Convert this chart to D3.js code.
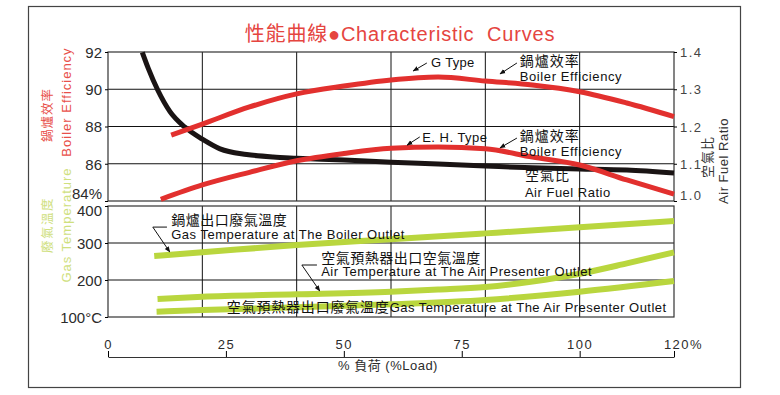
<!DOCTYPE html>
<html>
<head>
<meta charset="utf-8">
<script src="https://cdn.jsdelivr.net/npm/d3@7"></script>
<style>
  body { margin: 0; background: #fff; }
  svg text { font-family: "Liberation Sans", "Noto Sans CJK TC", sans-serif; }
</style>
</head>
<body>
<div id="chart"></div>
<script>
// load (%) on the x axis
const xTicks = [0, 25, 50, 75, 100, 120];
const gridLoads = [20, 40, 60, 80, 100];

// G type boiler efficiency (%)
const gLoad = [13.4, 20, 30, 40, 50, 60, 70, 80, 90, 100, 110, 120];
const gEff = [87.54, 88.13, 89.05, 89.75, 90.17, 90.5, 90.66, 90.44, 90.23, 89.87, 89.26, 88.53];

// E.H. type boiler efficiency (%)
const ehLoad = [11.2, 20, 30, 40, 50, 60, 70, 80, 90, 100, 110, 120];
const ehEff = [84.09, 84.86, 85.54, 86.16, 86.55, 86.83, 86.9, 86.8, 86.36, 85.93, 85.13, 84.37];

// air fuel ratio
const afLoad = [7.27, 8.54, 10.54, 13.14, 16.32, 20, 23.75, 29.4, 35, 40, 50, 60, 70, 80, 90, 100, 110, 120];
const afRatio = [1.399, 1.356, 1.298, 1.24, 1.198, 1.166, 1.14, 1.125, 1.118, 1.115, 1.11, 1.104, 1.099, 1.094, 1.089, 1.086, 1.083, 1.075];

// gas temperature at the boiler outlet (°C)
const boLoad = [9.8, 20, 40, 60, 80, 100, 120];
const boTemp = [264.9, 274.8, 294.6, 310, 326, 342.4, 359.5];

// air temperature at the air preheater outlet (°C)
const apAirLoad = [10.5, 20, 40, 60, 70, 80, 90, 100, 110, 120];
const apAirTemp = [148.6, 154.9, 161.3, 168.5, 174, 181, 196, 217, 245, 274.8];

// gas temperature at the air preheater outlet (°C)
const apGasLoad = [10.3, 20, 40, 60, 80, 100, 120];
const apGasTemp = [114.4, 118.9, 126.1, 134.2, 145.9, 168.4, 197.3];

const effTicks = [84, 86, 88, 90, 92];
const ratioTicks = [1.0, 1.1, 1.2, 1.3, 1.4];
const tempTicks = [100, 200, 300, 400];

const RED = "#e2302e", BLACK = "#1a1414", GREEN = "#b9d63e";
const TEXT = "#2b2b2b";

const width = 780, height = 395;
const svg = d3.select("#chart").append("svg")
  .attr("width", width)
  .attr("height", height);

const x = d3.scaleLinear().domain([0, 120]).range([108, 674]);
const yE = d3.scaleLinear().domain([84, 92]).range([201, 52]);
const yR = d3.scaleLinear().domain([1.0, 1.4]).range([201, 52]);
const yT = d3.scaleLinear().domain([100, 400]).range([317, 206]);

// outer frame
svg.append("rect")
  .attr("x", 28.5).attr("y", 6.5)
  .attr("width", 712).attr("height", 381)
  .attr("fill", "none").attr("stroke", "#444").attr("stroke-width", 1.2);

// title
svg.append("text")
  .attr("x", 400).attr("y", 41)
  .attr("text-anchor", "middle")
  .attr("fill", "#e5453f")
  .attr("font-size", 20)
  .attr("letter-spacing", 0.8)
  .text("性能曲線●Characteristic  Curves")
  .style("white-space", "pre");

// panels
function panel(yScale, hTicks) {
  const g = svg.append("g");
  g.selectAll(".vg").data(gridLoads).join("line")
    .attr("x1", d => x(d)).attr("x2", d => x(d))
    .attr("y1", yScale.range()[1]).attr("y2", yScale.range()[0])
    .attr("stroke", "#111").attr("stroke-width", 1);
  g.selectAll(".hg").data(hTicks).join("line")
    .attr("x1", x(0)).attr("x2", x(120))
    .attr("y1", d => yScale(d)).attr("y2", d => yScale(d))
    .attr("stroke", "#111").attr("stroke-width", 1);
  g.append("rect")
    .attr("x", x(0)).attr("y", yScale.range()[1])
    .attr("width", x(120) - x(0))
    .attr("height", yScale.range()[0] - yScale.range()[1])
    .attr("fill", "none").attr("stroke", "#333").attr("stroke-width", 1.2);
  return g;
}
panel(yE, [86, 88, 90]);
panel(yT, [200, 300]);

// left axis (efficiency)
const axE = svg.append("g")
  .attr("transform", `translate(${x(0)},0)`)
  .call(d3.axisLeft(yE).tickValues(effTicks).tickSize(3).tickPadding(3)
    .tickFormat(d => d === 84 ? "84%" : d));
axE.select(".domain").remove();
axE.selectAll("text").attr("font-size", 15).attr("fill", TEXT)
  .attr("dy", d => d === 84 ? "-0.15em" : "0.35em");

// left axis (temperature)
const axT = svg.append("g")
  .attr("transform", `translate(${x(0)},0)`)
  .call(d3.axisLeft(yT).tickValues(tempTicks).tickSize(3).tickPadding(3)
    .tickFormat(d => d === 100 ? "100°C" : d));
axT.select(".domain").remove();
axT.selectAll("text").attr("font-size", 15).attr("fill", TEXT)
  .attr("dy", d => d === 400 ? "0.6em" : "0.35em");

// right axis (air fuel ratio)
const axR = svg.append("g")
  .attr("transform", `translate(${x(120)},0)`)
  .call(d3.axisRight(yR).tickValues(ratioTicks).tickSize(3).tickPadding(3)
    .tickFormat(d3.format(".1f")));
axR.select(".domain").remove();
axR.selectAll("text").attr("font-size", 13).attr("fill", "#444")
  .attr("letter-spacing", 1.5)
  .attr("dy", d => d === 1.0 ? "-0.15em" : "0.35em");

// bottom x axis
const axX = svg.append("g")
  .attr("transform", "translate(0,357)")
  .call(d3.axisTop(x).tickValues(xTicks).tickSize(6).tickSizeOuter(0).tickPadding(2)
    .tickFormat(d => d === 120 ? "120%" : d));
axX.select(".domain").attr("stroke", "#333");
axX.selectAll("text").attr("font-size", 13).attr("fill", TEXT)
  .attr("letter-spacing", 1.5)
  .attr("dx", d => d === 120 ? 9 : 0);

svg.append("text")
  .attr("x", 388).attr("y", 370)
  .attr("text-anchor", "middle")
  .attr("font-size", 13).attr("fill", TEXT)
  .attr("letter-spacing", 0.5)
  .text("% 負荷 (%Load)");

// axis titles (rotated)
function vTitle(cx, cy, txt, color, size, spacing) {
  svg.append("text")
    .attr("transform", `translate(${cx},${cy}) rotate(-90)`)
    .attr("text-anchor", "middle")
    .attr("dominant-baseline", "central")
    .attr("font-size", size)
    .attr("letter-spacing", spacing)
    .attr("fill", color)
    .text(txt);
}
vTitle(48, 115, "鍋爐效率", "#e8504a", 12.5, 1);
vTitle(66, 102, "Boiler Efficiency", "#e8504a", 13, 1);
vTitle(48, 225, "廢氣溫度", "#cfe07e", 12.5, 1.5);
vTitle(66, 225, "Gas Temperature", "#cfe07e", 13, 1);
vTitle(707, 157, "空氣比", "#333", 13, 1);
vTitle(723, 161, "Air Fuel Ratio", "#333", 13, 0.5);

// curves
function curve(loads, vals, yScale, color, w) {
  const pts = loads.map((l, i) => [l, vals[i]]);
  svg.append("path")
    .datum(pts)
    .attr("fill", "none")
    .attr("stroke", color)
    .attr("stroke-width", w)
    .attr("d", d3.line().x(d => x(d[0])).y(d => yScale(d[1])).curve(d3.curveMonotoneX));
}
curve(boLoad, boTemp, yT, GREEN, 6);
curve(apAirLoad, apAirTemp, yT, GREEN, 6);
curve(apGasLoad, apGasTemp, yT, GREEN, 6);
curve(afLoad, afRatio, yR, BLACK, 5);
curve(gLoad, gEff, yE, RED, 5);
curve(ehLoad, ehEff, yE, RED, 5);

// annotations
svg.append("defs").append("marker")
  .attr("id", "arr").attr("viewBox", "0 0 10 10")
  .attr("refX", 9).attr("refY", 5)
  .attr("markerWidth", 6).attr("markerHeight", 6)
  .attr("markerUnits", "userSpaceOnUse")
  .attr("orient", "auto")
  .append("path").attr("d", "M0,1L10,5L0,9z").attr("fill", "#111");

function label(l, v, yScale, txt, size, spacing) {
  svg.append("text")
    .attr("x", x(l)).attr("y", yScale(v))
    .attr("font-size", size)
    .attr("letter-spacing", spacing || 0)
    .attr("fill", "#111")
    .text(txt);
}
function arrow(pts, yScale) {
  svg.append("path")
    .attr("d", d3.line().x(d => x(d[0])).y(d => yScale(d[1]))(pts))
    .attr("fill", "none").attr("stroke", "#111").attr("stroke-width", 1)
    .attr("marker-end", "url(#arr)");
}

label(68.5, 91.19, yE, "G Type", 13, 0.3);
arrow([[67.6, 91.41], [64.7, 90.98]], yE);
label(87.3, 91.25, yE, "鍋爐效率", 14, 1);
label(87.3, 90.42, yE, "Boiler Efficiency", 13, 0.6);
arrow([[86.7, 91.41], [83.1, 90.82]], yE);

label(66.6, 87.19, yE, "E. H. Type", 13, 0.5);
arrow([[66.1, 87.44], [63.4, 87.0]], yE);
label(87.3, 87.22, yE, "鍋爐效率", 14, 1);
label(87.3, 86.44, yE, "Boiler Efficiency", 13, 0.6);
arrow([[86.7, 87.38], [83.1, 86.85]], yE);

label(88.4, 85.13, yE, "空氣比", 14, 1);
label(88.4, 84.24, yE, "Air Fuel Ratio", 13, 0.5);

label(13.4, 348.6, yT, "鍋爐出口廢氣溫度", 14, 0.5);
label(13.4, 312, yT, "Gas Temperature at The Boiler Outlet", 13, 0.5);
arrow([[12.5, 343], [9.5, 343], [13.1, 275.7]], yT);

label(45.2, 246, yT, "空氣預熱器出口空氣溫度", 14, 0.5);
label(45.2, 209.5, yT, "Air Temperature at The Air Presenter Outlet", 13, 0.5);
arrow([[44.3, 240.5], [41.1, 240.5], [44.9, 170.3]], yT);

svg.append("text")
  .attr("x", x(25.2)).attr("y", yT(112.2))
  .attr("font-size", 13).attr("fill", "#111")
  .call(t => t.append("tspan").attr("font-size", 14).attr("letter-spacing", 0.8).text("空氣預熱器出口廢氣溫度"))
  .call(t => t.append("tspan").attr("letter-spacing", 0.45).text("Gas Temperature at The Air Presenter Outlet"));
</script>
</body>
</html>
